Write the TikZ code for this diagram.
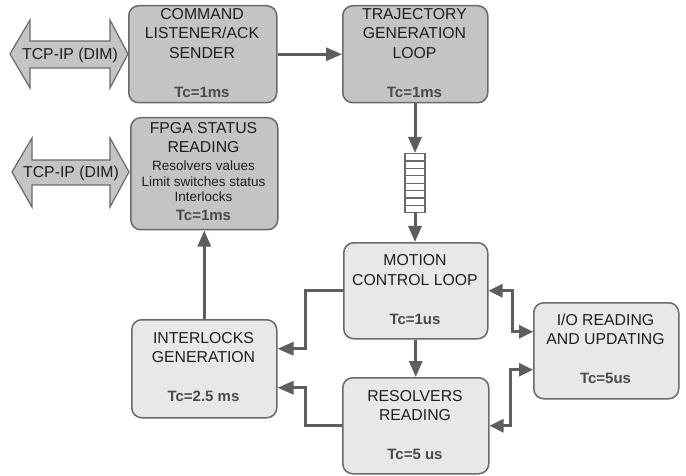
\documentclass[tikz,border=0pt]{standalone}
\usepackage{fontspec}
\setmainfont{Liberation Sans}
\usetikzlibrary{arrows.meta,calc}

\definecolor{darkfill}{HTML}{C4C4C4}
\definecolor{lightfill}{HTML}{E8E8E8}
\definecolor{edgec}{HTML}{6A6A6A}
\definecolor{linkc}{HTML}{5E5E5E}
\definecolor{txtc}{HTML}{1E1E1E}
\definecolor{tcc}{HTML}{4A4A4A}

\tikzset{
  box/.style={draw=edgec, line width=1.5pt, rounded corners=10pt, inner sep=0pt,
              anchor=north west},
  darkbox/.style={box, fill=darkfill},
  lightbox/.style={box, fill=lightfill},
  ttl/.style={anchor=base, inner sep=0pt, text=txtc, font=\fontsize{15.8}{18}\selectfont},
  small/.style={anchor=base, inner sep=0pt, text=txtc, font=\fontsize{13.5}{16}\selectfont},
  tc/.style={anchor=base, inner sep=0pt, text=tcc, font=\bfseries\fontsize{15}{18}\selectfont},
  link/.style={draw=linkc, line width=3pt,
               -{Triangle[length=16pt,width=13pt]}},
  biglink/.style={draw=linkc, line width=3pt,
               {Triangle[length=14pt,width=13pt]}-{Triangle[length=14pt,width=13pt]}},
  tcpshape/.style={draw=edgec, line width=1.2pt, fill=darkfill, line join=miter},
  cell/.style={draw=edgec, line width=1.2pt, fill=white, minimum width=20pt,
               minimum height=7.4pt, inner sep=0pt, anchor=north}
}

\begin{document}
\begin{tikzpicture}[x=1pt,y=-1pt]
\useasboundingbox (0,0) rectangle (686,476);

% ---- processing blocks ----
\node[darkbox, minimum width=148pt, minimum height=97pt] (cmd) at (128,5) {};
\node[darkbox, minimum width=145pt, minimum height=97pt] (traj) at (342,5) {};
\node[darkbox, minimum width=147pt, minimum height=112pt] (fpga) at (130,117) {};
\node[lightbox, minimum width=144pt, minimum height=96pt] (motion) at (343,242) {};
\node[lightbox, minimum width=146pt, minimum height=96pt] (resolv) at (342,377) {};
\node[lightbox, minimum width=145pt, minimum height=98pt] (intl) at (131,319) {};
\node[lightbox, minimum width=145pt, minimum height=96pt] (io) at (533,302) {};

% ---- block texts ----
\node[ttl] (cmd1) at (202,19.7) {COMMAND};
\node[ttl] (cmd2) at (202,38.7) {LISTENER/ACK};
\node[ttl] (cmd3) at (202,58.7) {SENDER};
\node[tc]  (cmd4) at (202,97.5) {Tc=1ms};

\node[ttl] (traj1) at (414.5,19.7) {TRAJECTORY};
\node[ttl] (traj2) at (414.5,38.7) {GENERATION};
\node[ttl] (traj3) at (414.5,58.7) {LOOP};
\node[tc]  (traj4) at (414.5,97.5) {Tc=1ms};

\node[ttl]   (fpga1) at (203.5,133.7) {FPGA STATUS};
\node[ttl]   (fpga2) at (203.5,152.7) {READING};
\node[small] (fpga3) at (203.5,170.8) {Resolvers values};
\node[small] (fpga4) at (203.5,186.8) {Limit switches status};
\node[small] (fpga5) at (203.5,201.8) {Interlocks};
\node[tc]    (fpga6) at (203.5,220.5) {Tc=1ms};

\node[ttl] (mot1) at (415,265.7) {MOTION};
\node[ttl] (mot2) at (415,285.7) {CONTROL LOOP};
\node[tc]  (mot3) at (415,324.5) {Tc=1us};

\node[ttl] (res1) at (415,401.7) {RESOLVERS};
\node[ttl] (res2) at (415,420.7) {READING};
\node[tc]  (res3) at (415,459.5) {Tc=5 us};

\node[ttl] (intl1) at (203.5,343.7) {INTERLOCKS};
\node[ttl] (intl2) at (203.5,362.7) {GENERATION};
\node[tc]  (intl3) at (203.5,401.5) {Tc=2.5 ms};

\node[ttl] (io1) at (605.5,325.7) {I/O READING};
\node[ttl] (io2) at (605.5,344.7) {AND UPDATING};
\node[tc]  (io3) at (605.5,383.5) {Tc=5us};

% ---- TCP-IP double arrows ----
\draw[tcpshape] (10,54) -- (30,20) -- (30,41) -- (110,41) -- (110,20) -- (128,54)
  -- (110,88) -- (110,68) -- (30,68) -- (30,88) -- cycle;
\node[ttl] (tcp1) at (70,59.7) {TCP-IP (DIM)};

\draw[tcpshape] (12,172) -- (32,138) -- (32,160) -- (110,160) -- (110,138) -- (129,172)
  -- (110,207) -- (110,185) -- (32,185) -- (32,207) -- cycle;
\node[ttl] (tcp2) at (71,177.7) {TCP-IP (DIM)};

% ---- command queue ----
\foreach \i in {0,...,7}
  \node[cell] (q\i) at (415,153+\i*7.4) {};
\coordinate (qtop) at (q0.north);
\coordinate (qbot) at (q7.south);

% ---- connectors ----
\coordinate (jl) at (305,0);
\coordinate (jr) at (512,0);

\draw[link] (cmd.east) -- (traj.west);
\draw[link] (traj.south -| qtop) -- (qtop);
\draw[link] (qbot) -- (qbot |- motion.north);
\draw[link] (motion.south) -- (motion.south |- resolv.north);
\draw[link] (intl.north) -- (intl.north |- fpga.south);

\draw[link] (motion.west) -- (motion.west -| jl) |- ([yshift=20pt]intl.east);
\draw[link] (resolv.west) -- (resolv.west -| jl) |- ([yshift=-19pt]intl.east);

\draw[biglink] (motion.east) -- (motion.east -| jr) |- ([yshift=19pt]io.west);
\draw[biglink] (resolv.east) -- ($(resolv.east -| jr)+(-2,0)$) |- ([yshift=-19pt]io.west);
\end{tikzpicture}
\end{document}
